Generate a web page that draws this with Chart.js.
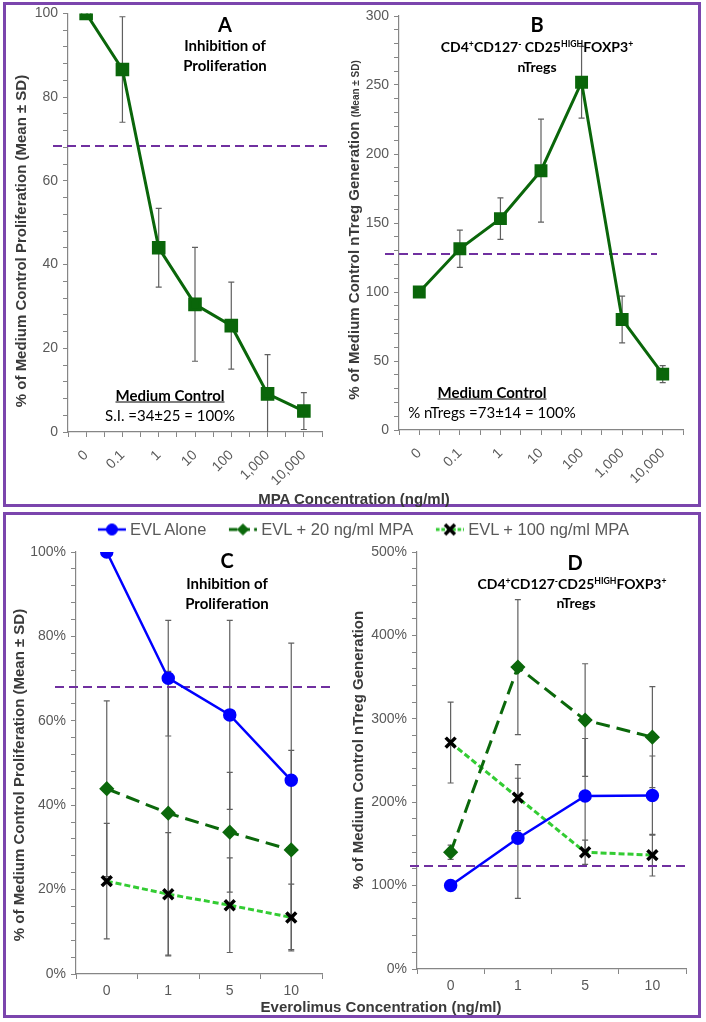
<!DOCTYPE html>
<html>
<head>
<meta charset="utf-8">
<script src="https://cdn.jsdelivr.net/npm/chart.js"></script>
<style>
  html, body { margin: 0; padding: 0; background: #fff; }
  #page { position: relative; width: 706px; height: 1022px; overflow: hidden; }
  #page canvas.panel { position: absolute; left: 0; top: 0; }
  .box { position: absolute; border: 3px solid #7b45ad; box-sizing: border-box; }
  .txt { position: absolute; transform: translate(-50%, -50%); white-space: nowrap;
         font-family: Lato, "Open Sans", sans-serif; color: #000; text-align: center; line-height: 1; }
  .b { font-weight: bold; }
  .u { text-decoration: underline; }
  .txt sup { font-size: 0.62em; vertical-align: 0.55em; line-height: 0; }
  .axt { position: absolute; white-space: nowrap; font-family: "Liberation Sans", Arial, sans-serif;
         font-weight: bold; font-size: 15px; color: #3a3a3a; line-height: 1; }
  .rot { transform: translate(-50%, -50%) rotate(-90deg); }
  .hor { transform: translate(-50%, -50%); }
  #legend { position: absolute; left: 363px; top: 529px; transform: translate(-50%, -50%);
            display: flex; align-items: center; gap: 22px; white-space: nowrap;
            font-family: "Liberation Sans", Arial, sans-serif; font-size: 16.5px; color: #595959; }
  #legend .item { display: flex; align-items: center; gap: 3px; }
</style>
</head>
<body>
<div id="page">
  <div class="box" style="left:3px; top:2px; width:698px; height:505px;"></div>
  <div class="box" style="left:3px; top:512px; width:698px; height:506px;"></div>

  <canvas id="chartA" class="panel" width="706" height="1022"></canvas>
  <canvas id="chartB" class="panel" width="706" height="1022"></canvas>
  <canvas id="chartC" class="panel" width="706" height="1022"></canvas>
  <canvas id="chartD" class="panel" width="706" height="1022"></canvas>

  <!-- panel A texts -->
  <div class="txt b" style="left:225px; top:24px; font-size:20px;">A</div>
  <div class="txt b" style="left:225px; top:45px; font-size:15px;">Inhibition of</div>
  <div class="txt b" style="left:225px; top:65px; font-size:15px;">Proliferation</div>
  <div class="txt b u" style="left:170px; top:395px; font-size:15px;">Medium Control</div>
  <div class="txt" style="left:170px; top:415px; font-size:15px;">S.I. =34±25 = 100%</div>

  <!-- panel B texts -->
  <div class="txt b" style="left:537px; top:24px; font-size:20px;">B</div>
  <div class="txt b" style="left:537px; top:47px; font-size:14px;">CD4<sup>+</sup>CD127<sup>-</sup> CD25<sup>HIGH</sup>FOXP3<sup>+</sup></div>
  <div class="txt b" style="left:537px; top:67px; font-size:14px;">nTregs</div>
  <div class="txt b u" style="left:492px; top:392px; font-size:15px;">Medium Control</div>
  <div class="txt" style="left:492px; top:412px; font-size:15px;">% nTregs =73±14 = 100%</div>

  <!-- panel C texts -->
  <div class="txt b" style="left:227px; top:560px; font-size:20px;">C</div>
  <div class="txt b" style="left:227px; top:583px; font-size:15px;">Inhibition of</div>
  <div class="txt b" style="left:227px; top:603px; font-size:15px;">Proliferation</div>

  <!-- panel D texts -->
  <div class="txt b" style="left:575px; top:562px; font-size:20px;">D</div>
  <div class="txt b" style="left:572px; top:584px; font-size:14px;">CD4<sup>+</sup>CD127<sup>-</sup>CD25<sup>HIGH</sup>FOXP3<sup>+</sup></div>
  <div class="txt b" style="left:576px; top:603px; font-size:14px;">nTregs</div>

  <!-- axis titles -->
  <div class="axt rot" style="left:20px; top:241px;">% of Medium Control Proliferation (Mean ± SD)</div>
  <div class="axt rot" style="left:353px; top:230px;">% of Medium Control nTreg Generation <span style="font-size:10px;">(Mean ± SD)</span></div>
  <div class="axt hor" style="left:354px; top:498px;">MPA Concentration (ng/ml)</div>
  <div class="axt rot" style="left:18px; top:775px;">% of Medium Control Proliferation (Mean ± SD)</div>
  <div class="axt rot" style="left:357px; top:750px;">% of Medium Control nTreg Generation</div>
  <div class="axt hor" style="left:381px; top:1006px;">Everolimus Concentration (ng/ml)</div>

  <div id="legend"></div>
</div>

<script>
// ---- data: MPA dose response (panels A, B) ----
const mpaDoses = ["0", "0.1", "1", "10", "100", "1,000", "10,000"];
const prolifMean = [100, 86.6, 44, 30.5, 25.4, 9.1, 5];
const prolifSd = [0, 12.6, 9.4, 13.6, 10.4, 9.4, 4.4];
const tregMean = [100, 131.3, 153.2, 187.9, 252, 80.1, 40.5];
const tregSd = [0, 13.5, 15, 37.3, 26, 16.9, 6.2];
const prolifCutoff = 68.3;
const tregCutoff = 127.5;

// ---- data: everolimus +/- MPA (panels C, D) ----
const evlDoses = ["0", "1", "5", "10"];
const seriesLabels = ["EVL Alone", "EVL + 20 ng/ml MPA", "EVL + 100 ng/ml MPA"];
const evlAloneProlif = [100, 70.1, 61.4, 45.9];
const evlAloneProlifSd = [0, 13.7, 22.4, 32.5];
const evl20Prolif = [43.9, 38.1, 33.6, 29.4];
const evl20ProlifSd = [20.8, 33.6, 14.2, 23.6];
const evl100Prolif = [22, 18.9, 16.3, 13.4];
const evl100ProlifSd = [13.7, 14.6, 11.2, 7.9];
const evlProlifCutoff = 68;

const evlAloneTreg = [100, 156.7, 207.4, 208];
const evlAloneTregSd = [0, 72, 69, 47.4];
const evl20Treg = [140, 362, 298.5, 278];
const evl20TregSd = [8.5, 81, 67.5, 60.5];
const evl100Treg = [271.5, 205.5, 140, 136.5];
const evl100TregSd = [48.5, 39.5, 14.5, 25];
const evlTregCutoff = 123.5;

Chart.defaults.font.family = '"Liberation Sans", Arial, sans-serif';
Chart.defaults.color = "#595959";

const axisGray = "#868686";

const styles = {
  mpa: { borderColor: "#0a660a", backgroundColor: "#0a660a", borderWidth: 3,
         pointStyle: "rect", pointRadius: 7.5, pointBackgroundColor: "#0a660a", pointBorderColor: "#0a660a" },
  alone: { borderColor: "#0000ff", backgroundColor: "#0000ff", borderWidth: 2.5,
           pointStyle: "circle", pointRadius: 5.5, pointBackgroundColor: "#0000ff", pointBorderColor: "#0000ff" },
  evl20: { borderColor: "#0b680b", backgroundColor: "#0b680b", borderWidth: 3, borderDash: [14, 7],
           pointStyle: "rectRot", pointRadius: 5.5, pointBackgroundColor: "#0b680b", pointBorderColor: "#0b680b" },
  evl100: { borderColor: "#33cc33", backgroundColor: "#33cc33", borderWidth: 3, borderDash: [6, 3],
            pointStyle: "crossRot", pointRadius: 7, pointBorderWidth: 3.5, pointBackgroundColor: "#000", pointBorderColor: "#000" },
};

// error bars (mean +/- SD) drawn under the lines
const errorBars = {
  id: "errorBars",
  beforeDatasetsDraw(chart) {
    const ctx = chart.ctx;
    const yScale = chart.scales.y;
    const area = chart.chartArea;
    ctx.save();
    ctx.strokeStyle = "#606060";
    ctx.lineWidth = 1.2;
    chart.data.datasets.forEach((ds, i) => {
      if (!ds.sd) return;
      const meta = chart.getDatasetMeta(i);
      meta.data.forEach((pt, j) => {
        const sd = ds.sd[j];
        if (!sd) return;
        const raw = ds.data[j];
        const v = typeof raw === "object" ? raw.y : raw;
        const top = Math.max(yScale.getPixelForValue(v + sd), area.top);
        const bot = Math.min(yScale.getPixelForValue(v - sd), area.bottom);
        ctx.beginPath();
        ctx.moveTo(pt.x, top);
        ctx.lineTo(pt.x, bot);
        ctx.moveTo(pt.x - 3, top);
        ctx.lineTo(pt.x + 3, top);
        if (bot < area.bottom) {
          ctx.moveTo(pt.x - 3, bot);
          ctx.lineTo(pt.x + 3, bot);
        }
        ctx.stroke();
      });
    });
    ctx.restore();
  },
};

// purple dashed reference line
const cutoffLine = {
  id: "cutoffLine",
  beforeDatasetsDraw(chart, args, opts) {
    if (opts.value == null) return;
    const ctx = chart.ctx;
    const area = chart.chartArea;
    const y = chart.scales.y.getPixelForValue(opts.value);
    ctx.save();
    ctx.strokeStyle = "#7030a0";
    ctx.lineWidth = 2;
    ctx.setLineDash([9, 5]);
    ctx.beginPath();
    ctx.moveTo(area.left - (opts.left || 0), y);
    ctx.lineTo(area.right + (opts.right || 0), y);
    ctx.stroke();
    ctx.restore();
  },
};

function yAxis(max, step, major, suffix) {
  return {
    min: 0,
    max: max,
    grid: { drawOnChartArea: false, tickLength: 5, color: axisGray },
    border: { color: axisGray, width: 1.2 },
    ticks: {
      stepSize: step,
      autoSkip: false,
      padding: 5,
      font: { size: 14 },
      callback: (v) => (v % major === 0 ? v + suffix : ""),
    },
    afterFit: (s) => { s.width = 50; },
  };
}

function mpaXAxis() {
  return {
    type: "linear",
    min: -0.5,
    max: mpaDoses.length - 0.5,
    grid: { drawOnChartArea: false, tickLength: 5, color: axisGray },
    border: { color: axisGray, width: 1.2 },
    ticks: {
      stepSize: 0.5,
      autoSkip: false,
      minRotation: 45,
      maxRotation: 45,
      padding: 10,
      font: { size: 14 },
      callback: (v) => (Number.isInteger(v) ? mpaDoses[v] : ""),
    },
    afterFit: (s) => { s.height = 70; },
  };
}

function evlXAxis() {
  return {
    type: "category",
    offset: true,
    grid: { drawOnChartArea: false, offset: true, tickLength: 5, color: axisGray },
    border: { color: axisGray, width: 1.2 },
    ticks: { padding: 4, font: { size: 14 } },
    afterFit: (s) => { s.height = 30; },
  };
}

function makeChart(id, cfg) {
  return new Chart(document.getElementById(id).getContext("2d"), {
    type: "line",
    data: { labels: cfg.labels, datasets: cfg.datasets },
    options: {
      responsive: false,
      animation: false,
      devicePixelRatio: 1,
      layout: { padding: cfg.padding },
      elements: { line: { tension: 0 } },
      plugins: {
        legend: { display: false },
        tooltip: { enabled: false },
        cutoffLine: cfg.cutoff,
      },
      scales: { x: cfg.x, y: cfg.y },
    },
    plugins: [errorBars, cutoffLine],
  });
}

const toXY = (arr) => arr.map((v, i) => ({ x: i, y: v }));

makeChart("chartA", {
  padding: { left: 18, right: 384, top: 11, bottom: 520 },
  datasets: [{ label: "Proliferation", data: toXY(prolifMean), sd: prolifSd, ...styles.mpa }],
  x: mpaXAxis(),
  y: yAxis(100, 4, 20, ""),
  cutoff: { value: prolifCutoff, left: 15, right: 5 },
});

makeChart("chartB", {
  padding: { left: 349, right: 23, top: 16, bottom: 522 },
  datasets: [{ label: "nTregs", data: toXY(tregMean), sd: tregSd, ...styles.mpa, pointRadius: 7 }],
  x: mpaXAxis(),
  y: yAxis(300, 10, 50, ""),
  cutoff: { value: tregCutoff, left: 14, right: -26 },
});

const chartC = makeChart("chartC", {
  padding: { left: 26, right: 384, top: 552, bottom: 18 },
  labels: evlDoses,
  datasets: [
    { label: seriesLabels[0], data: evlAloneProlif, sd: evlAloneProlifSd, ...styles.alone },
    { label: seriesLabels[1], data: evl20Prolif, sd: evl20ProlifSd, ...styles.evl20 },
    { label: seriesLabels[2], data: evl100Prolif, sd: evl100ProlifSd, ...styles.evl100 },
  ],
  x: evlXAxis(),
  y: yAxis(100, 4, 20, "%"),
  cutoff: { value: evlProlifCutoff, left: 21, right: 8 },
});

makeChart("chartD", {
  padding: { left: 367, right: 20, top: 552, bottom: 23 },
  labels: evlDoses,
  datasets: [
    { label: seriesLabels[0], data: evlAloneTreg, sd: evlAloneTregSd, ...styles.alone },
    { label: seriesLabels[1], data: evl20Treg, sd: evl20TregSd, ...styles.evl20 },
    { label: seriesLabels[2], data: evl100Treg, sd: evl100TregSd, ...styles.evl100 },
  ],
  x: evlXAxis(),
  y: yAxis(500, 20, 100, "%"),
  cutoff: { value: evlTregCutoff, left: 7, right: -1 },
});

// shared legend for C and D, built from chart C's datasets
const legendEl = document.getElementById("legend");
chartC.data.datasets.forEach((ds) => {
  const item = document.createElement("div");
  item.className = "item";
  const icon = document.createElement("canvas");
  icon.width = 30;
  icon.height = 18;
  const ictx = icon.getContext("2d");
  ictx.strokeStyle = ds.borderColor;
  ictx.lineWidth = ds.borderWidth;
  ictx.setLineDash(ds.borderDash ? ds.borderDash.map((d) => d * 0.6) : []);
  ictx.beginPath();
  ictx.moveTo(1, 9);
  ictx.lineTo(29, 9);
  ictx.stroke();
  ictx.setLineDash([]);
  ictx.fillStyle = ds.pointBackgroundColor;
  ictx.strokeStyle = ds.pointBorderColor;
  ictx.lineWidth = ds.pointBorderWidth || 1;
  Chart.helpers.drawPoint(ictx, { pointStyle: ds.pointStyle, radius: ds.pointRadius, borderWidth: ds.pointBorderWidth || 1, rotation: 0 }, 15, 9);
  const label = document.createElement("span");
  label.textContent = ds.label;
  item.appendChild(icon);
  item.appendChild(label);
  legendEl.appendChild(item);
});
</script>
</body>
</html>
